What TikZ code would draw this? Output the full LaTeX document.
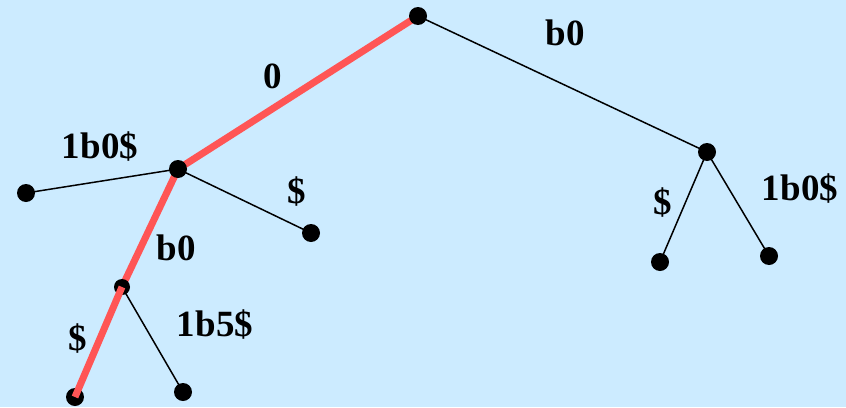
\documentclass[tikz,border=0pt]{standalone}
\usepackage{fontspec}
\setmainfont{Liberation Serif}
\definecolor{bgblue}{RGB}{204,235,255}
\definecolor{pathred}{RGB}{255,85,85}
\begin{document}
\begin{tikzpicture}[x=1pt,y=-1pt,
  dot/.style={circle,fill=black,inner sep=0pt,minimum size=18pt},
  sdot/.style={circle,fill=black,inner sep=0pt,minimum size=16pt},
  edge/.style={draw=black,line width=1.5pt},
  hot/.style={draw=pathred,line width=7pt},
  lab/.style={font=\fontsize{37}{42}\selectfont\bfseries,inner sep=0pt,anchor=center}]
\fill[bgblue] (0,0) rectangle (846,407);
\useasboundingbox (0,0) rectangle (846,407);
% coordinates
\coordinate (root) at (418,16);
\coordinate (A) at (178,169);
\coordinate (Al) at (26,193);
\coordinate (Ar) at (311,233);
\coordinate (B) at (122,287);
\coordinate (Bl) at (75,397);
\coordinate (Br) at (183,392);
\coordinate (R) at (707,152);
\coordinate (Rl) at (660,262);
\coordinate (Rr) at (769,256);
% black edges
\draw[edge] (root) -- (R);
\draw[edge] (R) -- (Rl);
\draw[edge] (R) -- (Rr);
\draw[edge] (A) -- (Al);
\draw[edge] (A) -- (Ar);
\draw[edge] (B) -- (Br);
% red path
\draw[hot] (root) -- (A) -- (B);
% dots
\node[dot] (nroot) at (root) {};
\node[dot] (nA) at (A) {};
\node[dot] (nAl) at (Al) {};
\node[dot] (nAr) at (Ar) {};
\node[sdot] (nB) at (B) {};
\node[dot] (nBl) at (Bl) {};
\node[dot] (nBr) at (Br) {};
\node[dot] (nR) at (R) {};
\node[dot] (nRl) at (Rl) {};
\node[dot] (nRr) at (Rr) {};
\draw[hot] (nB.center) -- (nBl.center);
% labels
\node[lab] (l0) at (273,76) {0};
\node[lab] (lb0top) at (565,33) {b0};
\node[lab] (l1b0a) at (100,147) {1b0\$};
\node[lab] (ldA) at (297,192) {\$};
\node[lab] (lb0mid) at (176,248) {b0};
\node[lab] (l1b5) at (215,325) {1b5\$};
\node[lab] (ldB) at (78,339) {\$};
\node[lab] (ldR) at (663,203) {\$};
\node[lab] (l1b0b) at (800,189) {1b0\$};
\end{tikzpicture}
\end{document}
